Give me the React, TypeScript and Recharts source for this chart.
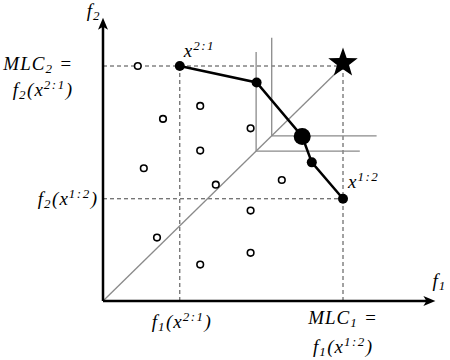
import React from 'react'
import { ComposedChart, XAxis, YAxis, Scatter, ReferenceLine, ReferenceDot } from 'recharts'

// dominated solutions (f1, f2)
const otherF1 = [1.45, 4.05, 2.5, 6.15, 4.05, 1.7, 4.7, 7.45, 6.15, 2.25, 6.15, 4.05]
const otherF2 = [10, 8.3, 7.75, 7.35, 6.4, 5.65, 4.95, 5.15, 3.85, 2.7, 2.05, 1.55]

// Pareto front, from x^{2:1} to x^{1:2}
const frontF1 = [3.2, 6.4, 8.3, 8.7, 10]
const frontF2 = [10, 9.3, 7.0, 5.9, 4.35]
const compromiseIdx = 2

// ideal point
const mlc1 = 10
const mlc2 = 10

// dominance cones: corner sits on the diagonal
const coneCorner = [6.38, 7.03]
const coneTop = [10.6, 11.2]
const coneRight = [10.7, 11.4]

// axis extents
const xMax = 14
const yMax = 12
const xArrow = 13.85
const yArrow = 12.05

const others = otherF1.map((x, i) => ({ x, y: otherF2[i] }))
const front = frontF1.map((x, i) => ({ x, y: frontF2[i] }))
const x21 = front[0]
const x12 = front[front.length - 1]

const SERIF = "'Liberation Serif', 'DejaVu Serif', serif"

type Part = { t: string; s?: 'sub' | 'sup' }

function MathText({ x, y, parts, anchor = 'start', size = 19 }: any) {
  let shift = 0
  return (
    <text x={x} y={y} textAnchor={anchor} fontFamily={SERIF} fontStyle="italic" fontSize={size} fill="#000">
      {parts.map((p: Part, i: number) => {
        const target = p.s === 'sub' ? 3 : p.s === 'sup' ? -7 : 0
        const dy = target - shift
        shift = target
        return (
          <tspan key={i} dy={dy} fontSize={p.s ? 13 : size} letterSpacing={p.s ? 1.5 : 1}>
            {p.t}
          </tspan>
        )
      })}
    </text>
  )
}

const labels: { at: { x: number; y: number }; parts: Part[]; anchor: string; dx: number; dy: number }[] = [
  { at: { x: 0, y: yMax }, parts: [{ t: 'f' }, { t: '2', s: 'sub' }], anchor: 'end', dx: -2, dy: -2 },
  { at: { x: xArrow, y: 0 }, parts: [{ t: 'f' }, { t: '1', s: 'sub' }], anchor: 'start', dx: -3, dy: -14 },
  { at: { x: 0, y: mlc2 }, parts: [{ t: 'MLC' }, { t: '2', s: 'sub' }, { t: ' =' }], anchor: 'end', dx: -30, dy: 4 },
  { at: { x: 0, y: mlc2 }, parts: [{ t: 'f' }, { t: '2', s: 'sub' }, { t: '(x' }, { t: '2:1', s: 'sup' }, { t: ')' }], anchor: 'end', dx: -30, dy: 30 },
  { at: x21, parts: [{ t: 'x' }, { t: '2:1', s: 'sup' }], anchor: 'start', dx: 4, dy: -9 },
  { at: x12, parts: [{ t: 'x' }, { t: '1:2', s: 'sup' }], anchor: 'start', dx: 5, dy: -11 },
  { at: { x: 0, y: x12.y }, parts: [{ t: 'f' }, { t: '2', s: 'sub' }, { t: '(x' }, { t: '1:2', s: 'sup' }, { t: ')' }], anchor: 'end', dx: -5, dy: 6 },
  { at: { x: x21.x, y: 0 }, parts: [{ t: 'f' }, { t: '1', s: 'sub' }, { t: '(x' }, { t: '2:1', s: 'sup' }, { t: ')' }], anchor: 'middle', dx: 2, dy: 27 },
  { at: { x: mlc1, y: 0 }, parts: [{ t: 'MLC' }, { t: '1', s: 'sub' }, { t: ' =' }], anchor: 'middle', dx: 0, dy: 23 },
  { at: { x: mlc1, y: 0 }, parts: [{ t: 'f' }, { t: '1', s: 'sub' }, { t: '(x' }, { t: '1:2', s: 'sup' }, { t: ')' }], anchor: 'middle', dx: 0, dy: 52 },
]

const starShape = (p: any) => {
  const cx = p.cx
  const cy = p.cy - 3
  const pts: string[] = []
  for (let i = 0; i < 10; i++) {
    const r = i % 2 === 0 ? 15.5 : 6.3
    const a = -Math.PI / 2 + (i * Math.PI) / 5
    pts.push(`${cx + r * Math.cos(a)},${cy + r * Math.sin(a)}`)
  }
  return <polygon points={pts.join(' ')} fill="#000" />
}

const dashed = { stroke: '#444', strokeWidth: 1, strokeDasharray: '4 3' }
const gray = { stroke: '#8a8a8a', strokeWidth: 1.3 }

export default function App() {
  return (
    <div style={{ position: 'absolute', left: 0, top: 0, background: '#fff' }}>
      <ComposedChart width={450} height={360} margin={{ top: 19, right: 11, bottom: 59, left: 103 }}>
        <XAxis type="number" dataKey="x" domain={[0, xMax]} hide />
        <YAxis type="number" dataKey="y" domain={[0, yMax]} hide />

        {/* guide lines to the ideal point */}
        <ReferenceLine segment={[{ x: 0, y: mlc2 }, { x: mlc1, y: mlc2 }]} {...dashed} />
        <ReferenceLine segment={[{ x: 0, y: x12.y }, { x: x12.x, y: x12.y }]} {...dashed} />
        <ReferenceLine segment={[{ x: x21.x, y: 0 }, { x: x21.x, y: x21.y }]} {...dashed} />
        <ReferenceLine segment={[{ x: mlc1, y: 0 }, { x: mlc1, y: mlc2 }]} {...dashed} />

        {/* diagonal and cones */}
        <ReferenceLine segment={[{ x: 0, y: 0 }, { x: mlc1, y: mlc2 }]} {...gray} />
        {coneCorner.map((c, i) => (
          <ReferenceLine key={'v' + i} segment={[{ x: c, y: coneTop[i] }, { x: c, y: c }]} {...gray} />
        ))}
        {coneCorner.map((c, i) => (
          <ReferenceLine key={'h' + i} segment={[{ x: c, y: c }, { x: coneRight[i], y: c }]} {...gray} />
        ))}

        {/* axes */}
        <ReferenceLine segment={[{ x: 0, y: 0 }, { x: 0, y: 11.7 }]} stroke="#000" strokeWidth={2.5} />
        <ReferenceLine segment={[{ x: 0, y: 0 }, { x: 13.5, y: 0 }]} stroke="#000" strokeWidth={2.5} />
        <ReferenceDot
          x={0}
          y={yArrow}
          ifOverflow="visible"
          shape={(p: any) => (
            <path d={`M${p.cx},${p.cy} L${p.cx - 5},${p.cy + 12} L${p.cx},${p.cy + 9} L${p.cx + 5},${p.cy + 12} Z`} fill="#000" />
          )}
        />
        <ReferenceDot
          x={xArrow}
          y={0}
          ifOverflow="visible"
          shape={(p: any) => (
            <path d={`M${p.cx},${p.cy} L${p.cx - 12},${p.cy - 5} L${p.cx - 9},${p.cy} L${p.cx - 12},${p.cy + 5} Z`} fill="#000" />
          )}
        />

        <Scatter
          data={others}
          isAnimationActive={false}
          shape={(p: any) => <circle cx={p.cx} cy={p.cy} r={3.3} fill="#fff" stroke="#000" strokeWidth={1.6} />}
        />
        <Scatter
          data={front}
          isAnimationActive={false}
          line={{ stroke: '#000', strokeWidth: 2.5 }}
          lineType="joint"
          shape={(p: any) => <circle cx={p.cx} cy={p.cy} r={5} fill="#000" />}
        />
        <Scatter
          data={[front[compromiseIdx]]}
          isAnimationActive={false}
          shape={(p: any) => <circle cx={p.cx} cy={p.cy} r={8.5} fill="#000" />}
        />
        <Scatter data={[{ x: mlc1, y: mlc2 }]} isAnimationActive={false} shape={starShape} />

        {labels.map((l, i) => (
          <ReferenceDot
            key={'l' + i}
            x={l.at.x}
            y={l.at.y}
            ifOverflow="visible"
            shape={(p: any) => <MathText x={p.cx + l.dx} y={p.cy + l.dy} parts={l.parts} anchor={l.anchor} />}
          />
        ))}
      </ComposedChart>
    </div>
  )
}
